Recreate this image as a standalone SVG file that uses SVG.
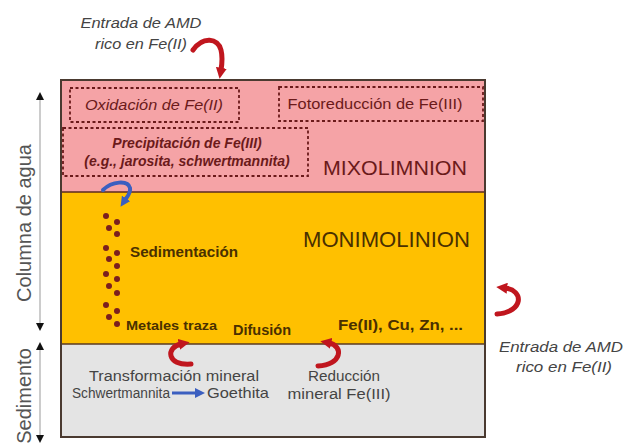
<svg xmlns="http://www.w3.org/2000/svg" width="629" height="447" viewBox="0 0 629 447">
<style>
.t{font-family:"Liberation Sans",Arial,sans-serif}
.lbl{font-family:"Liberation Sans",Arial,sans-serif;font-style:italic;font-size:15.5px;fill:#444}
.pk{font-family:"Liberation Sans",Arial,sans-serif;fill:#6b1a1a}
.or{font-family:"Liberation Sans",Arial,sans-serif;fill:#4a3000;font-weight:bold}
.gr{font-family:"Liberation Sans",Arial,sans-serif;fill:#444}
.dash{fill:none;stroke:#6b1a1a;stroke-width:1.8;stroke-dasharray:3 2.5}
.red{fill:none;stroke:#c0161e;stroke-width:5;stroke-linecap:round}
.blue{fill:none;stroke:#3b5fc0;stroke-width:4;stroke-linecap:round}
.axis{stroke:#aaa;stroke-width:1.2}
.dot{fill:#7b1f1f}
</style>
<defs>
<marker id="hr" viewBox="0 0 10 10" refX="2" refY="5" markerWidth="11" markerHeight="11" markerUnits="userSpaceOnUse" orient="auto"><path d="M0,0 L10,5 L0,10 z" fill="#c0161e"/></marker>
<marker id="hb" viewBox="0 0 10 10" refX="2" refY="5" markerWidth="10" markerHeight="10" markerUnits="userSpaceOnUse" orient="auto"><path d="M0,0 L10,5 L0,10 z" fill="#3b5fc0"/></marker>
</defs>

<g id="layers">
<rect id="mixolimnion" x="61" y="80" width="424" height="112" fill="#f5a3a6"/>
<rect id="monimolimnion" x="61" y="192" width="424" height="152" fill="#ffc000"/>
<rect id="sedimento-layer" x="61" y="344" width="424" height="93" fill="#e4e4e4"/>
<line x1="61" y1="192" x2="485" y2="192" stroke="#5a2a20" stroke-width="1.5"/>
<line x1="61" y1="344" x2="485" y2="344" stroke="#5a3a20" stroke-width="1.5"/>
<rect x="61" y="80" width="424" height="357" fill="none" stroke="#4a3a30" stroke-width="2"/>
</g>

<g id="oxidacion">
<rect class="dash" x="70" y="88" width="169" height="34"/>
<text class="pk" x="154" y="110" font-size="15.5" font-style="italic" text-anchor="middle" textLength="138" lengthAdjust="spacingAndGlyphs">Oxidación de Fe(II)</text>
</g>
<g id="fotoreduccion">
<rect class="dash" x="279" y="87" width="204" height="34"/>
<text class="pk" x="375" y="109" font-size="15.5" text-anchor="middle" textLength="175" lengthAdjust="spacingAndGlyphs">Fotoreducción de Fe(III)</text>
</g>
<g id="precipitacion">
<rect class="dash" x="63" y="128" width="245" height="48"/>
<text class="pk" x="187" y="148" font-size="14" font-style="italic" font-weight="bold" text-anchor="middle">Precipitación de Fe(III)</text>
<text class="pk" x="187" y="166" font-size="14" font-style="italic" font-weight="bold" text-anchor="middle">(e.g., jarosita, schwertmannita)</text>
</g>
<text class="pk" x="323" y="175" font-size="21" textLength="144" lengthAdjust="spacingAndGlyphs">MIXOLIMNION</text>
<text x="303" y="247" font-size="22" fill="#4a3000" class="t" textLength="167" lengthAdjust="spacingAndGlyphs">MONIMOLINION</text>

<g id="sedimentacion">
<circle class="dot" cx="106" cy="216" r="3"/><circle class="dot" cx="117" cy="222" r="3"/>
<circle class="dot" cx="109" cy="228" r="3"/><circle class="dot" cx="117" cy="234" r="3"/>
<circle class="dot" cx="106" cy="248" r="3"/><circle class="dot" cx="117" cy="253" r="3"/>
<circle class="dot" cx="109" cy="259" r="3"/><circle class="dot" cx="117" cy="266" r="3"/>
<circle class="dot" cx="106" cy="274" r="3"/><circle class="dot" cx="117" cy="279" r="3"/>
<circle class="dot" cx="109" cy="286" r="3"/><circle class="dot" cx="117" cy="293" r="3"/>
<circle class="dot" cx="106" cy="305" r="3"/><circle class="dot" cx="117" cy="311" r="3"/>
<circle class="dot" cx="109" cy="317" r="3"/><circle class="dot" cx="117" cy="324" r="3"/>
<text class="or" x="130" y="257" font-size="14.5" textLength="108" lengthAdjust="spacingAndGlyphs">Sedimentación</text>
<text class="or" x="126" y="330" font-size="13.5" textLength="91" lengthAdjust="spacingAndGlyphs">Metales traza</text>
</g>
<text class="or" x="233" y="335" font-size="14.5" textLength="58" lengthAdjust="spacingAndGlyphs">Difusión</text>
<text class="or" x="338" y="330" font-size="14.5" textLength="125" lengthAdjust="spacingAndGlyphs">Fe(II), Cu, Zn, ...</text>

<g id="transformacion">
<text class="gr" x="174" y="381" font-size="15.5" text-anchor="middle" textLength="170" lengthAdjust="spacingAndGlyphs">Transformación mineral</text>
<text class="gr" x="72" y="398" font-size="14" textLength="98" lengthAdjust="spacingAndGlyphs">Schwertmannita</text>
<text class="gr" x="207" y="398" font-size="14.5" textLength="62" lengthAdjust="spacingAndGlyphs">Goethita</text>
</g>
<g id="reduccion">
<text class="gr" x="344" y="381" font-size="15.5" text-anchor="middle" textLength="72" lengthAdjust="spacingAndGlyphs">Reducción</text>
<text class="gr" x="339" y="399" font-size="15.5" text-anchor="middle" textLength="103" lengthAdjust="spacingAndGlyphs">mineral Fe(III)</text>
</g>

<g id="entrada-top">
<text class="lbl" x="141" y="28" text-anchor="middle" textLength="121" lengthAdjust="spacingAndGlyphs">Entrada de AMD</text>
<text class="lbl" x="141" y="49" text-anchor="middle" textLength="92" lengthAdjust="spacingAndGlyphs">rico en Fe(II)</text>
</g>
<g id="entrada-right">
<text class="lbl" x="561" y="352" text-anchor="middle" textLength="124" lengthAdjust="spacingAndGlyphs">Entrada de AMD</text>
<text class="lbl" x="564" y="372" text-anchor="middle" textLength="96" lengthAdjust="spacingAndGlyphs">rico en Fe(II)</text>
</g>

<g id="axes">
<line class="axis" x1="40" y1="96" x2="40" y2="326"/>
<path d="M40,92 L36,100 L44,100 z" fill="#111"/>
<path d="M40,331 L36,323 L44,323 z" fill="#111"/>
<line class="axis" x1="40" y1="346" x2="40" y2="438"/>
<path d="M40,342 L36,350 L44,350 z" fill="#111"/>
<path d="M40,443 L36,435 L44,435 z" fill="#111"/>
<text class="t" transform="translate(31,223) rotate(-90)" font-size="20" fill="#555" text-anchor="middle">Columna de agua</text>
<text class="t" transform="translate(31,396) rotate(-90)" font-size="20" fill="#555" text-anchor="middle">Sedimento</text>
</g>

<g id="connectors">
<path class="red" d="M193,50 C203,36 218,38 221,50 C223,58 222,64 221,70" marker-end="url(#hr)"/>
<path class="blue" d="M103,190 C112,181 128,180 130,188 C131,193 127,197 125,200" marker-end="url(#hb)"/>
<path class="red" d="M497,314 C524,312 524,290 505,288" marker-end="url(#hr)"/>
<path class="red" d="M191,364 C166,366 166,347 181,344" marker-end="url(#hr)"/>
<path class="red" d="M318,366 C342,365 344,346 329,343" marker-end="url(#hr)"/>
<line x1="172" y1="393" x2="197" y2="393" stroke="#3b5fc0" stroke-width="3" marker-end="url(#hb)"/>
</g>
</svg>
